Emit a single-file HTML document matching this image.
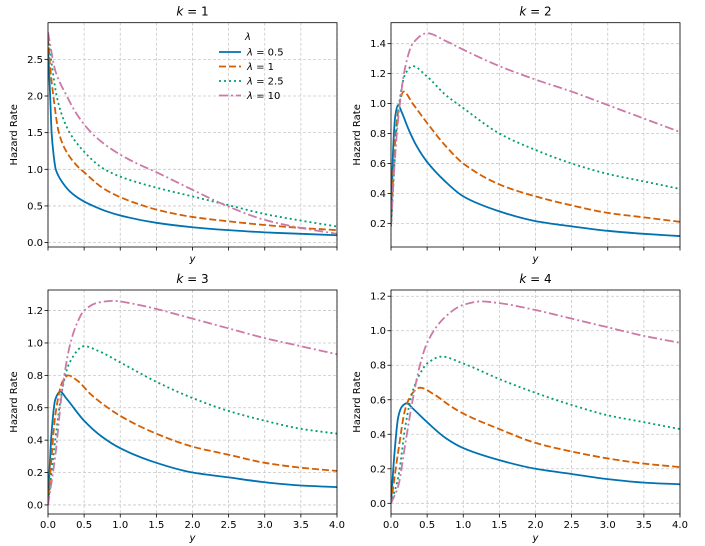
<!DOCTYPE html>
<html><head><meta charset="utf-8">
<style>
html,body{margin:0;padding:0;background:#fff;}
svg{display:block;font-family:"DejaVu Sans","Liberation Sans",sans-serif;}
</style></head>
<body>
<svg id="chart" width="705" height="546" viewBox="0 0 705 546" xmlns="http://www.w3.org/2000/svg"></svg>
<script>
const lambdas = ["0.5", "1", "2.5", "10"];
const xTicks = [0, 0.5, 1, 1.5, 2, 2.5, 3, 3.5, 4];
// k=1
const k1x = [[0,0.015,0.03,0.05,0.075,0.107,0.15,0.2,0.3,0.4,0.5,0.65,0.8,1,1.5,2,2.5,3,3.5,4],
             [0,0.03,0.074,0.15,0.25,0.4,0.5,0.75,1,1.27,1.5,2,2.5,3,3.5,4],
             [0,0.05,0.12,0.2,0.3,0.5,0.75,1,1.5,2,2.5,3,3.5,4],
             [0,0.1,0.26,0.4,0.6,0.8,1,1.25,1.5,2,2.5,3,3.5,4]];
const k1y = [[2.65,2.35,2.0,1.5,1.22,1.0,0.9,0.82,0.7,0.62,0.56,0.49,0.43,0.37,0.27,0.21,0.17,0.14,0.12,0.1],
             [2.8,2.4,2.0,1.5,1.25,1.05,0.96,0.75,0.62,0.52,0.45,0.35,0.29,0.24,0.2,0.17],
             [2.85,2.45,2.0,1.72,1.5,1.24,1.02,0.9,0.75,0.63,0.51,0.39,0.3,0.22],
             [2.87,2.35,2.0,1.75,1.5,1.33,1.2,1.07,0.96,0.72,0.49,0.31,0.2,0.12]];
// k=2
const k2x = [[0,0.03,0.06,0.1,0.15,0.25,0.35,0.5,0.75,1,1.5,2,2.5,3,3.5,4],
             [0,0.05,0.1,0.175,0.3,0.5,0.75,1,1.5,2,2.5,3,3.5,4],
             [0,0.1,0.2,0.3,0.5,0.75,1,1.5,2,2.5,3,3.5,4],
             [0,0.05,0.1,0.2,0.3,0.5,0.75,1,1.5,2,2.5,3,3.5,4]];
const k2y = [[0.18,0.7,0.92,0.99,0.94,0.82,0.72,0.61,0.48,0.38,0.28,0.215,0.18,0.15,0.13,0.115],
             [0.18,0.7,0.95,1.08,1.0,0.87,0.72,0.6,0.46,0.38,0.32,0.27,0.24,0.21],
             [0.18,0.95,1.2,1.25,1.18,1.06,0.97,0.8,0.69,0.6,0.53,0.48,0.43],
             [0.18,0.6,0.9,1.25,1.4,1.47,1.42,1.36,1.25,1.16,1.08,0.99,0.9,0.81]];
// k=3
const k3x = [[0,0.05,0.1,0.17,0.25,0.5,0.75,1,1.5,2,2.5,3,3.5,4],
             [0,0.05,0.1,0.2,0.28,0.4,0.6,1,1.5,2,2.5,3,3.5,4],
             [0,0.1,0.2,0.3,0.5,0.7,1,1.5,2,2.5,3,3.5,4],
             [0,0.1,0.2,0.3,0.4,0.5,0.7,0.9,1.2,1.5,2,2.5,3,3.5,4]];
const k3y = [[0,0.45,0.65,0.7,0.66,0.52,0.42,0.35,0.26,0.2,0.17,0.14,0.12,0.11],
             [0,0.3,0.55,0.76,0.8,0.77,0.68,0.55,0.44,0.36,0.31,0.26,0.23,0.21],
             [0,0.4,0.72,0.88,0.98,0.95,0.88,0.76,0.66,0.58,0.52,0.47,0.44],
             [0,0.3,0.72,0.98,1.12,1.2,1.25,1.26,1.24,1.21,1.15,1.09,1.03,0.98,0.93]];
// k=4
const k4x = [[0,0.05,0.1,0.15,0.22,0.3,0.5,0.75,1,1.5,2,2.5,3,3.5,4],
             [0,0.1,0.2,0.3,0.4,0.6,0.8,1,1.5,2,2.5,3,3.5,4],
             [0,0.1,0.2,0.3,0.4,0.5,0.7,1,1.5,2,2.5,3,3.5,4],
             [0,0.1,0.2,0.3,0.4,0.5,0.75,1,1.25,1.5,2,2.5,3,3.5,4]];
const k4y = [[0,0.3,0.5,0.56,0.58,0.55,0.47,0.38,0.32,0.25,0.2,0.17,0.14,0.12,0.11],
             [0,0.3,0.55,0.64,0.67,0.63,0.57,0.52,0.43,0.35,0.3,0.26,0.23,0.21],
             [0,0.15,0.45,0.65,0.75,0.81,0.85,0.81,0.72,0.64,0.57,0.51,0.47,0.43],
             [0,0.1,0.35,0.6,0.8,0.93,1.08,1.15,1.17,1.16,1.12,1.07,1.02,0.97,0.93]];
const yTicks1 = [0, 0.5, 1.0, 1.5, 2.0, 2.5];
const yTicks2 = [0.2, 0.4, 0.6, 0.8, 1.0, 1.2, 1.4];
const yTicks3 = [0, 0.2, 0.4, 0.6, 0.8, 1.0, 1.2];
const yTicks4 = [0, 0.2, 0.4, 0.6, 0.8, 1.0, 1.2];

const NS = "http://www.w3.org/2000/svg";
const svg = document.getElementById("chart");
const colors = ["#0072b2", "#d55e00", "#009e73", "#cc79a7"];
const dashes = ["", "7,3", "2,3", "9,3,2,3"];
function mk(tag, attrs, parent) {
  const e = document.createElementNS(NS, tag);
  for (const k in attrs) e.setAttribute(k, attrs[k]);
  (parent || svg).appendChild(e);
  return e;
}
function monotonePath(xa, ya, sx, sy) {
  const n = xa.length;
  const d = [], m = new Array(n);
  for (let i = 0; i < n - 1; i++) d.push((ya[i + 1] - ya[i]) / (xa[i + 1] - xa[i]));
  m[0] = d[0]; m[n - 1] = d[n - 2];
  for (let i = 1; i < n - 1; i++) {
    if (d[i - 1] * d[i] <= 0) m[i] = 0;
    else {
      const h0 = xa[i] - xa[i - 1], h1 = xa[i + 1] - xa[i];
      const w1 = 2 * h1 + h0, w2 = h1 + 2 * h0;
      m[i] = (w1 + w2) / (w1 / d[i - 1] + w2 / d[i]);
    }
  }
  let p = "M" + sx(xa[0]).toFixed(2) + "," + sy(ya[0]).toFixed(2);
  for (let i = 0; i < n - 1; i++) {
    const h = xa[i + 1] - xa[i];
    const c1x = xa[i] + h / 3, c1y = ya[i] + m[i] * h / 3;
    const c2x = xa[i + 1] - h / 3, c2y = ya[i + 1] - m[i + 1] * h / 3;
    p += " C" + sx(c1x).toFixed(2) + "," + sy(c1y).toFixed(2) + " " + sx(c2x).toFixed(2) + "," + sy(c2y).toFixed(2) + " " + sx(xa[i + 1]).toFixed(2) + "," + sy(ya[i + 1]).toFixed(2);
  }
  return p;
}
function panel(cfg) {
  const {x0, x1, y0, y1, ymin, ymax, xs, ys, yticks, title, showXLabels, id} = cfg;
  const g = mk("g", {});
  
  
  const sx = v => x0 + (v - 0) / 4 * (x1 - x0);
  const sy = v => y1 - (v - ymin) / (ymax - ymin) * (y1 - y0);
  const clipId = "clip" + id;
  const cp = mk("clipPath", {id: clipId}, g);
  mk("rect", {x: x0, y: y0, width: x1 - x0, height: y1 - y0}, cp);
  xTicks.forEach(t => {
    const l = mk("line", {x1: sx(t), x2: sx(t), y1: y0, y2: y1, stroke: "#c8c8c8", "stroke-width": 0.8, "stroke-dasharray": "3,2"}, g);
    
    
    mk("line", {x1: sx(t), x2: sx(t), y1: y1, y2: y1 + 3.5, stroke: "#000", "stroke-width": 0.8}, g);
    if (showXLabels) {
      const tx = mk("text", {x: sx(t), y: y1 + 14, "font-size": 10, "text-anchor": "middle", fill: "#000"}, g);
      tx.textContent = t.toFixed(1);
      
      
    }
  });
  yticks.forEach(t => {
    const l = mk("line", {x1: x0, x2: x1, y1: sy(t), y2: sy(t), stroke: "#c8c8c8", "stroke-width": 0.8, "stroke-dasharray": "3,2"}, g);
    
    
    mk("line", {x1: x0 - 3.5, x2: x0, y1: sy(t), y2: sy(t), stroke: "#000", "stroke-width": 0.8}, g);
    const tx = mk("text", {x: x0 - 5, y: sy(t) + 3.5, "font-size": 10, "text-anchor": "end", fill: "#000"}, g);
    tx.textContent = t.toFixed(1);
    
    
  });
  xs.forEach((xa, i) => {
    const p = mk("path", {d: monotonePath(xa, ys[i], sx, sy), fill: "none", stroke: colors[i], "stroke-width": 1.8, "clip-path": "url(#" + clipId + ")"}, g);
    if (dashes[i]) p.setAttribute("stroke-dasharray", dashes[i]);
    
    
  });
  const fr = mk("rect", {x: x0, y: y0, width: x1 - x0, height: y1 - y0, fill: "none", stroke: "#000", "stroke-width": 0.8}, g);
  
  
  const tt = mk("text", {x: (x0 + x1) / 2, y: y0 - 7, "font-size": 12, "text-anchor": "middle", fill: "#000"}, g);
  tt.innerHTML = '<tspan font-style="italic">k</tspan> = ' + title;
  
  
  const xl = mk("text", {x: (x0 + x1) / 2, y: y1 + (showXLabels ? 27 : 15), "font-size": 10, "font-style": "italic", "text-anchor": "middle", fill: "#000"}, g);
  xl.textContent = "y";
  
  
  const cy = (y0 + y1) / 2, cx = x0 - 31;
  const yl = mk("text", {x: cx, y: cy, "font-size": 10, "text-anchor": "middle", fill: "#000", transform: "rotate(-90 " + cx + " " + cy + ")"}, g);
  yl.textContent = "Hazard Rate";
  
  
}
panel({id: "k1", x0: 48, x1: 337, y0: 22.7, y1: 247, ymin: -0.06, ymax: 3.0, xs: k1x, ys: k1y, yticks: yTicks1, title: "1", showXLabels: false});
panel({id: "k2", x0: 391, x1: 680, y0: 22.7, y1: 247, ymin: 0.042, ymax: 1.54, xs: k2x, ys: k2y, yticks: yTicks2, title: "2", showXLabels: false});
panel({id: "k3", x0: 48, x1: 337, y0: 290, y1: 514, ymin: -0.056, ymax: 1.327, xs: k3x, ys: k3y, yticks: yTicks3, title: "3", showXLabels: true});
panel({id: "k4", x0: 391, x1: 680, y0: 290, y1: 514, ymin: -0.062, ymax: 1.236, xs: k4x, ys: k4y, yticks: yTicks4, title: "4", showXLabels: true});
const lg = mk("g", {});


const lt = mk("text", {x: 248, y: 40, "font-size": 10, "font-style": "italic", "text-anchor": "middle"}, lg);
lt.textContent = "λ";


lambdas.forEach((l, i) => {
  const y = 52 + i * 14.5;
  const ln = mk("line", {x1: 219, x2: 241, y1: y, y2: y, stroke: colors[i], "stroke-width": 1.8}, lg);
  if (dashes[i]) ln.setAttribute("stroke-dasharray", dashes[i]);
  
  
  const t = mk("text", {x: 247, y: y + 3.5, "font-size": 10}, lg);
  t.innerHTML = '<tspan font-style="italic">λ</tspan> = ' + l;
  
  
});
</script>
</body></html>
